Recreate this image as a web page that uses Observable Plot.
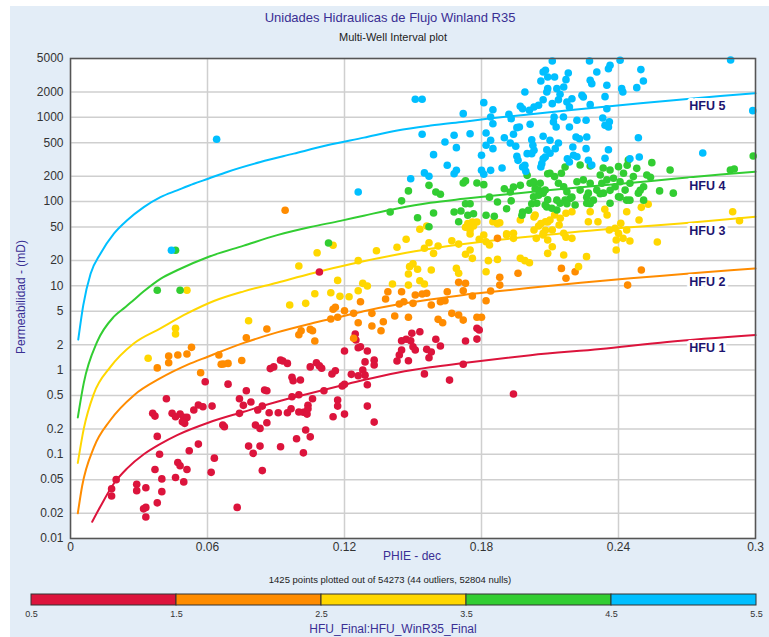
<!DOCTYPE html>
<html>
<head>
<meta charset="utf-8">
<script src="https://cdn.jsdelivr.net/npm/d3@7"></script>
<script src="https://cdn.jsdelivr.net/npm/@observablehq/plot@0.6"></script>
<style>
  html, body { margin: 0; padding: 0; background: #ffffff; }
  body { width: 769px; height: 637px; position: relative; overflow: hidden; font-family: "Liberation Sans", Arial, sans-serif; }
  #panel { position: absolute; left: 10px; top: 6px; right: 0; bottom: 0; background: #e3edf7; }
  .t { position: absolute; white-space: nowrap; transform: translate(-50%, -50%); }
  #title { left: 390px; top: 17px; font-size: 13px; color: #3a2f94; }
  #subtitle { left: 393px; top: 37px; font-size: 11px; color: #222; }
  #ylabel { left: 21px; top: 297px; font-size: 12px; color: #3a2f94; transform: translate(-50%, -50%) rotate(-90deg); }
  #xlabel { left: 412px; top: 556px; font-size: 12px; color: #3a2f94; }
  #note { left: 390px; top: 579px; font-size: 9.5px; color: #222; }
  #legtitle { left: 393px; top: 629px; font-size: 12px; color: #3a2f94; }
  #main { position: absolute; left: 0; top: 0; }
  #legend { position: absolute; left: 0; top: 588px; }
</style>
</head>
<body>
<div id="panel"></div>
<div id="main"></div>
<div id="legend"></div>
<div class="t" id="title">Unidades Hidraulicas de Flujo Winland R35</div>
<div class="t" id="subtitle">Multi-Well Interval plot</div>
<div class="t" id="ylabel">Permeabilidad - (mD)</div>
<div class="t" id="xlabel">PHIE - dec</div>
<div class="t" id="note">1425 points plotted out of 54273 (44 outliers, 52804 nulls)</div>
<div class="t" id="legtitle">HFU_Final:HFU_WinR35_Final</div>
<script>
// ---------- axis ticks ----------
const xTicks = [0, 0.06, 0.12, 0.18, 0.24, 0.3];
const yTicks = [0.01, 0.02, 0.05, 0.1, 0.2, 0.5, 1, 2, 5, 10, 20, 50, 100, 200, 500, 1000, 2000, 5000];

// ---------- classes ----------
const hfuClasses = [1, 2, 3, 4, 5];
const hfuColors = ["#dc143c", "#ff8c00", "#ffd700", "#32cd32", "#00bfff"];
const legendTicks = [0.5, 1.5, 2.5, 3.5, 4.5, 5.5];

// ---------- HFU curve labels ----------
const hfuLabelText = ["HFU 1", "HFU 2", "HFU 3", "HFU 4", "HFU 5"];
const hfuLabelPhi = [0.271, 0.271, 0.271, 0.271, 0.271];
const hfuLabelK = [1.81, 11.2, 45.1, 154.5, 1365];

// ---------- Winland R35 curves ----------
const hfu1CurvePhi = [0.0095,0.0131,0.019,0.0248,0.0321,0.0394,0.0467,0.0603,0.0759,0.0905,0.1051,0.1182,0.1284,0.1431,0.1576,0.1722,0.1869,0.2015,0.2321,0.2613,0.3];
const hfu1CurveK   = [0.0158,0.024,0.045,0.068,0.100,0.133,0.169,0.237,0.32,0.42,0.53,0.65,0.76,0.93,1.08,1.21,1.35,1.50,1.78,2.15,2.6];
const hfu2CurvePhi = [0.0032,0.0051,0.0102,0.0175,0.0277,0.0394,0.0511,0.0601,0.0759,0.0905,0.1051,0.1182,0.1284,0.1431,0.1576,0.1722,0.1869,0.2015,0.2234,0.2453,0.2672,0.2891,0.3];
const hfu2CurveK   = [0.0199,0.042,0.12,0.255,0.50,0.80,1.15,1.44,2.1,2.8,3.55,4.3,5.0,6.0,6.9,7.8,8.6,9.5,10.9,12.3,13.7,15.3,16.1];
const hfu3CurvePhi = [0.0032,0.0058,0.0102,0.0175,0.0277,0.0394,0.0511,0.0628,0.0759,0.0905,0.1051,0.1182,0.1284,0.1431,0.1576,0.1722,0.1869,0.2015,0.2307,0.2453,0.2672,0.2891,0.3];
const hfu3CurveK   = [0.079,0.20,0.52,1.09,2.07,3.13,4.7,6.6,8.6,10.9,13.9,17.0,19.6,23.5,27.5,31.3,35,38.5,46,49.5,55,62,66];
const hfu4CurvePhi = [0.0032,0.0058,0.0117,0.019,0.0241,0.0277,0.0321,0.0394,0.0467,0.0603,0.0759,0.0905,0.1051,0.1182,0.1284,0.1431,0.1576,0.1722,0.1869,0.2015,0.2102,0.2496,0.2643,0.2847,0.3];
const hfu4CurveK   = [0.274,0.70,2.17,4.3,5.6,6.8,8.6,12.1,15.3,22,30,40,50,59,68,83,97,108,119,130,137,171,187,210,226];
const hfu5CurvePhi = [0.0034,0.0056,0.0088,0.0131,0.019,0.0248,0.0321,0.0394,0.0467,0.054,0.0603,0.0686,0.0832,0.0978,0.1124,0.1285,0.1431,0.1577,0.1723,0.1825,0.1942,0.2088,0.2204,0.235,0.2496,0.2642,0.2846,0.3];
const hfu5CurveK   = [2.3,5.9,13.9,24,41.6,60,86,113,136,163,187,225,295,371,466,575,700,800,890,960,1040,1140,1230,1345,1470,1600,1790,1933];

// ---------- scatter points [PHIE, K] ----------
const hfu1Points = [[0.020,0.050],[0.018,0.039],[0.018,0.032],[0.029,0.044],[0.029,0.037],[0.033,0.040],[0.032,0.0225],[0.033,0.0234],[0.033,0.018],[0.038,0.0265],[0.040,0.036],[0.040,0.051],[0.037,0.066],[0.039,0.10],[0.038,0.163],[0.036,0.306],[0.037,0.284],[0.042,0.456],[0.0445,0.306],[0.046,0.279],[0.048,0.30],[0.0496,0.274],[0.051,0.274],[0.050,0.233],[0.049,0.243],[0.047,0.080],[0.048,0.073],[0.0496,0.047],[0.046,0.053],[0.051,0.066],[0.052,0.110],[0.056,0.132],[0.054,0.335],[0.056,0.384],[0.058,0.366],[0.062,0.373],[0.059,0.726],[0.063,0.090],[0.0616,0.061],[0.0667,0.222],[0.0674,0.212],[0.069,0.68],[0.074,0.456],[0.0757,0.381],[0.074,0.306],[0.077,0.568],[0.079,0.417],[0.078,0.125],[0.080,0.1025],[0.083,0.125],[0.084,0.064],[0.081,0.222],[0.083,0.203],[0.082,0.335],[0.085,0.578],[0.086,0.568],[0.086,0.237],[0.084,0.373],[0.087,0.311],[0.0875,1.04],[0.089,1.09],[0.092,1.31],[0.093,1.28],[0.095,1.20],[0.091,0.311],[0.092,0.123],[0.095,0.311],[0.0966,0.347],[0.097,0.482],[0.0975,0.746],[0.097,0.819],[0.099,0.153],[0.100,0.509],[0.1007,0.761],[0.100,0.317],[0.102,0.315],[0.104,0.381],[0.103,0.317],[0.1036,0.30],[0.104,0.347],[0.103,0.194],[0.105,0.161],[0.102,0.104],[0.106,0.456],[0.105,1.09],[0.1077,1.22],[0.109,1.12],[0.111,0.568],[0.110,1.05],[0.1145,0.896],[0.116,0.98],[0.115,0.279],[0.117,0.44],[0.117,0.373],[0.073,0.0234],[0.1247,2.68],[0.125,2.27],[0.120,1.68],[0.126,1.84],[0.127,1.89],[0.130,1.68],[0.129,1.25],[0.133,1.31],[0.133,1.15],[0.128,1.0],[0.129,0.87],[0.126,0.856],[0.123,0.889],[0.120,0.676],[0.119,0.646],[0.130,0.669],[0.120,0.30],[0.130,0.373],[0.145,2.23],[0.147,2.32],[0.1495,2.73],[0.153,2.85],[0.149,2.23],[0.150,1.89],[0.151,1.73],[0.144,1.51],[0.143,1.28],[0.148,1.29],[0.145,1.73],[0.156,1.76],[0.158,1.64],[0.157,1.40],[0.160,2.32],[0.162,1.93],[0.173,2.21],[0.178,3.13],[0.179,2.99],[0.178,2.33],[0.172,1.17],[0.155,0.90],[0.166,0.76],[0.194,0.519],[0.133,0.241],[0.109,14.6]];

const hfu2Points = [[0.038,1.06],[0.043,1.47],[0.043,1.22],[0.047,1.51],[0.051,1.55],[0.053,1.86],[0.057,0.93],[0.065,1.51],[0.066,1.17],[0.067,1.18],[0.069,1.20],[0.075,1.30],[0.077,2.42],[0.086,3.07],[0.100,2.62],[0.101,2.93],[0.105,3.04],[0.106,2.93],[0.107,2.21],[0.114,4.03],[0.117,4.23],[0.115,5.26],[0.116,5.55],[0.120,5.06],[0.124,4.71],[0.127,6.47],[0.126,3.65],[0.132,4.71],[0.132,3.33],[0.136,2.93],[0.137,3.75],[0.138,6.97],[0.139,8.51],[0.142,4.38],[0.144,6.08],[0.145,8.51],[0.146,6.47],[0.148,4.23],[0.150,6.19],[0.151,7.78],[0.154,8.0],[0.156,8.15],[0.158,5.92],[0.162,6.47],[0.164,6.65],[0.165,8.51],[0.161,4.0],[0.163,3.65],[0.167,4.71],[0.170,11.0],[0.173,10.7],[0.172,8.74],[0.170,4.5],[0.172,3.92],[0.176,7.57],[0.178,4.23],[0.180,4.23],[0.182,6.65],[0.184,8.67],[0.188,12.6],[0.188,10.2],[0.196,14.1],[0.187,36.6],[0.124,2.38],[0.215,16.1],[0.217,12.3],[0.221,14.7],[0.244,10.2],[0.250,15.4],[0.094,78.8]];

const hfu3Points = [[0.034,1.38],[0.046,3.13],[0.046,2.68],[0.078,3.85],[0.096,5.92],[0.103,6.19],[0.051,8.85],[0.115,30.3],[0.108,24.7],[0.100,17.2],[0.117,11.6],[0.114,8.28],[0.107,8.06],[0.118,7.50],[0.122,7.42],[0.126,8.74],[0.128,10.7],[0.130,9.95],[0.126,19.9],[0.134,26.1],[0.143,28.7],[0.147,35.7],[0.141,10.5],[0.148,10.2],[0.148,13.8],[0.1485,16.9],[0.150,18.2],[0.152,15.7],[0.158,15.4],[0.153,11.5],[0.155,10.5],[0.157,32.5],[0.155,27.9],[0.159,24.3],[0.161,29.7],[0.167,34.3],[0.170,31.3],[0.169,16.1],[0.170,14.1],[0.173,23.7],[0.175,26.6],[0.176,21.2],[0.175,46.0],[0.175,41.2],[0.1765,51.3],[0.173,49.5],[0.179,35.7],[0.181,40.1],[0.182,33.4],[0.1835,30.5],[0.182,14.7],[0.183,19.9],[0.187,20.6],[0.185,57.7],[0.188,56.1],[0.191,40.1],[0.194,42.0],[0.194,36.6],[0.197,21.2],[0.199,19.9],[0.201,18.8],[0.197,60.4],[0.203,46.0],[0.205,51.3],[0.207,40.1],[0.209,35.0],[0.209,24.3],[0.153,46.9],[0.156,51.3],[0.174,54.7],[0.176,57.3],[0.178,57.3],[0.187,54.7],[0.203,65.6],[0.206,54.7],[0.209,57.3],[0.208,45.6],[0.191,41.6],[0.253,92.9],[0.250,85.5],[0.249,60.4],[0.257,33.1],[0.245,34.0],[0.290,75.9],[0.293,59.3],[0.2035,69.3],[0.208,57.7],[0.210,60.4],[0.212,69.3],[0.2145,63.4],[0.217,72.6],[0.2196,75.9],[0.207,42.0],[0.211,46.0],[0.214,52.7],[0.216,42.0],[0.217,37.7],[0.2196,36.6],[0.204,36.6],[0.211,29.1],[0.216,23.2],[0.226,22.2],[0.2225,16.9],[0.2276,75.9],[0.231,57.7],[0.234,81.1],[0.235,69.3],[0.236,46.0],[0.2385,48.2],[0.240,42.0],[0.241,55.2],[0.242,36.6],[0.2436,46.0],[0.239,35.0],[0.239,26.6],[0.2436,75.9],[0.2268,57.7]];

const hfu4Points = [[0.038,8.85],[0.048,8.85],[0.046,26.4],[0.113,32.2],[0.157,50.3],[0.170,57.7],[0.140,75.2],[0.145,102],[0.148,134],[0.152,64.4],[0.157,156],[0.160,130],[0.162,122],[0.159,73.2],[0.168,75.2],[0.171,77.3],[0.172,166],[0.173,176],[0.178,166],[0.181,159],[0.173,94.4],[0.175,94.4],[0.174,68.8],[0.1765,71.8],[0.182,68.8],[0.1856,66.9],[0.187,98.9],[0.1835,113],[0.190,142],[0.1926,130],[0.194,149],[0.197,156],[0.200,205],[0.203,166],[0.2035,142],[0.193,102],[0.191,82.4],[0.198,75.2],[0.202,94.4],[0.205,119],[0.207,126],[0.209,214],[0.209,105],[0.2086,86.3],[0.1977,68.8],[0.2006,78.8],[0.2546,290],[0.2626,237],[0.258,134],[0.264,126],[0.289,237],[0.2907,244],[0.299,348],[0.254,194],[0.2013,165],[0.2028,172],[0.2057,165],[0.210,217],[0.212,198],[0.2137,165],[0.215,217],[0.216,150],[0.2174,131],[0.2166,104],[0.2144,95.4],[0.2188,109],[0.221,91.2],[0.2218,172],[0.2232,137],[0.2246,181],[0.2268,126],[0.2276,165],[0.229,104],[0.2305,137],[0.232,207],[0.2327,165],[0.2334,126],[0.2349,181],[0.2363,237],[0.2378,189],[0.2385,150],[0.240,114],[0.2407,172],[0.2422,217],[0.2429,137],[0.2436,104],[0.245,165],[0.2465,198],[0.248,248],[0.2487,126],[0.251,150],[0.2524,207],[0.2042,95.4],[0.2079,91.2],[0.2108,83.2],[0.213,79.4],[0.2232,272],[0.2276,265],[0.240,260],[0.2443,312],[0.2028,114],[0.205,137],[0.2261,95.4],[0.2363,95.4],[0.245,104],[0.2166,258],[0.2333,251],[0.2438,270],[0.2079,137],[0.213,104],[0.2174,94.4],[0.2196,113],[0.2261,113],[0.2276,94.4],[0.232,124],[0.2363,136],[0.2407,113],[0.2495,136],[0.251,104]];

const hfu5Points = [[0.0442,26.4],[0.064,550],[0.126,130],[0.149,187],[0.155,219],[0.157,200],[0.151,1641],[0.154,1641],[0.154,630],[0.159,361],[0.165,270],[0.168,214],[0.169,235],[0.164,510],[0.168,613],[0.169,437],[0.172,1107],[0.175,640],[0.180,355],[0.180,235],[0.181,211],[0.182,466],[0.182,653],[0.184,535],[0.184,235],[0.185,425],[0.185,841],[0.184,1011],[0.185,1233],[0.181,1496],[0.189,251],[0.190,574],[0.192,1089],[0.193,966],[0.194,630],[0.1926,497],[0.195,454],[0.1955,345],[0.196,309],[0.198,258],[0.199,270],[0.1994,229],[0.1955,755],[0.1966,769],[0.198,1268],[0.199,2004],[0.197,1355],[0.201,1213],[0.2013,828],[0.203,1330],[0.202,543],[0.2025,466],[0.203,406],[0.200,371],[0.202,371],[0.205,1393],[0.207,597],[0.207,323],[0.206,258],[0.207,3459],[0.206,2704],[0.208,3625],[0.209,2193],[0.209,3020],[0.211,4677],[0.212,3020],[0.218,3365],[0.217,2805],[0.216,2296],[0.213,2193],[0.2144,1879],[0.2086,2004],[0.207,1622],[0.211,1455],[0.2137,1622],[0.2174,1524],[0.2185,1330],[0.2196,1667],[0.224,1828],[0.2246,1746],[0.2276,2760],[0.2283,2513],[0.2305,3459],[0.2363,4159],[0.2356,3784],[0.2407,4766],[0.2273,4677],[0.2349,2405],[0.2414,2193],[0.2419,2004],[0.248,2254],[0.2509,2704],[0.2498,3690],[0.2349,1268],[0.2276,1416],[0.2331,984],[0.2341,805],[0.2356,769],[0.2258,925],[0.2218,925],[0.2185,769],[0.2118,1011],[0.2115,881],[0.2127,769],[0.2159,1011],[0.210,535],[0.2137,497],[0.2123,425],[0.2086,413],[0.2079,339],[0.2064,282],[0.220,445],[0.2214,585],[0.2229,558],[0.2261,585],[0.2258,425],[0.2268,309],[0.2203,355],[0.2185,295],[0.2176,323],[0.2356,413],[0.245,323],[0.2491,339],[0.2487,574],[0.2769,378],[0.2341,1762],[0.236,889],[0.2341,327],[0.2891,4808],[0.2988,1202],[0.210,375],[0.2218,341],[0.2283,272]];

// ---------- build tables ----------
const pointSets = [hfu1Points, hfu2Points, hfu3Points, hfu4Points, hfu5Points];
const points = pointSets.flatMap((arr, i) => arr.map(([phi, k]) => ({phi, k, hfu: hfuClasses[i]})));
const curvePhis = [hfu1CurvePhi, hfu2CurvePhi, hfu3CurvePhi, hfu4CurvePhi, hfu5CurvePhi];
const curveKs = [hfu1CurveK, hfu2CurveK, hfu3CurveK, hfu4CurveK, hfu5CurveK];
const curves = curvePhis.flatMap((phis, i) => phis.map((phi, j) => ({phi, k: curveKs[i][j], hfu: hfuClasses[i]})));
const labels = hfuLabelText.map((t, i) => ({t, phi: hfuLabelPhi[i], k: hfuLabelK[i]}));

const colorScale = {type: "ordinal", domain: hfuClasses, range: hfuColors};
const fontFamily = '"Liberation Sans", Arial, sans-serif';

const main = Plot.plot({
  width: 769,
  height: 570,
  marginLeft: 70,
  marginRight: 14,
  marginTop: 58,
  marginBottom: 32,
  style: {background: "transparent", fontFamily, fontSize: "12px", color: "#333"},
  x: {domain: [0, 0.3], axis: null},
  y: {type: "log", domain: [0.01, 5000], axis: null},
  color: colorScale,
  marks: [
    Plot.frame({fill: "white"}),
    Plot.ruleY(yTicks, {y: d => d, stroke: "#cfcfcf", strokeWidth: 1.5}),
    Plot.ruleX(xTicks, {x: d => d, stroke: "#cfcfcf", strokeWidth: 1.5}),
    Plot.line(curves, {x: "phi", y: "k", z: "hfu", stroke: "hfu", strokeWidth: 2, curve: "monotone-x"}),
    Plot.dot(points, {x: "phi", y: "k", fill: "hfu", r: 3.8}),
    Plot.text(labels, {x: "phi", y: "k", text: "t", textAnchor: "start", fontWeight: "bold", fontSize: 12.5, fill: "#1c1470", stroke: "white", strokeWidth: 6, paintOrder: "stroke"}),
    Plot.frame({stroke: "#555", strokeWidth: 1.5}),
    Plot.text(yTicks, {y: d => d, text: d => String(d), frameAnchor: "left", textAnchor: "end", dx: -7, fill: "#333", fontSize: 12}),
    Plot.text(xTicks, {x: d => d, text: d => String(d), frameAnchor: "bottom", lineAnchor: "top", dy: 4, fill: "#333", fontSize: 12})
  ]
});
document.getElementById("main").appendChild(main);

const legend = Plot.plot({
  width: 769,
  height: 38,
  marginLeft: 31,
  marginRight: 13,
  marginTop: 6,
  marginBottom: 21,
  style: {background: "transparent", fontFamily, fontSize: "9px", color: "#333"},
  x: {domain: [0.5, 5.5], axis: null},
  color: colorScale,
  marks: [
    Plot.barX(hfuClasses, {x1: d => d - 0.5, x2: d => d + 0.5, fill: d => d, stroke: "#333", strokeWidth: 1}),
    Plot.text(legendTicks, {x: d => d, text: d => d.toFixed(1), frameAnchor: "bottom", lineAnchor: "top", dy: 5, fill: "#333", fontSize: 9})
  ]
});
document.getElementById("legend").appendChild(legend);
</script>
</body>
</html>
